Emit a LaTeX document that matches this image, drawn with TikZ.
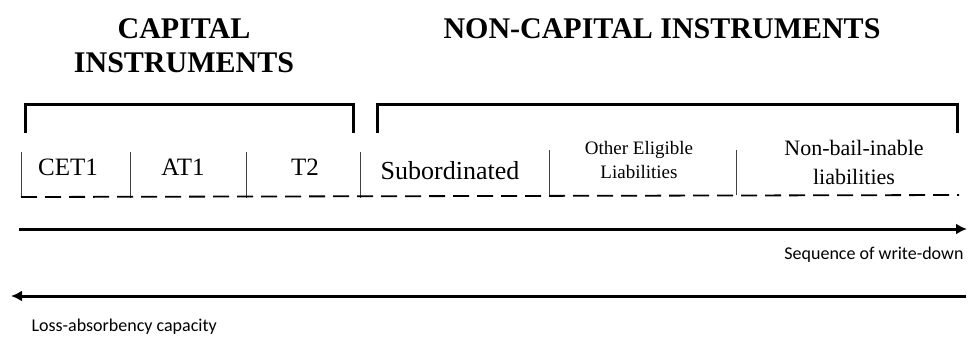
\documentclass[tikz,border=0pt]{standalone}
\usepackage{fontspec}
\setmainfont{Liberation Serif}
\newfontfamily\calibri{Carlito}
\usepackage{tikz}
\usetikzlibrary{arrows.meta}

\begin{document}
\begin{tikzpicture}[x=1pt,y=-1pt]
        \useasboundingbox (0,0) rectangle (968,338);

        \node[align=center,font=\fontsize{30}{34}\selectfont\bfseries] (captitle) at (184,46) {CAPITAL\\INSTRUMENTS};
        \node[font=\fontsize{30}{34}\selectfont\bfseries] (noncaptitle) at (662,29) {NON-CAPITAL INSTRUMENTS};

        \draw[line width=3pt] (25,133) -- (25,104) -- (353,104) -- (353,133);
        \draw[line width=3pt] (377,133) -- (377,104) -- (957,104) -- (957,133);

        \foreach \x in {21,130,246,360} {
            \draw[line width=0.8pt,black!75] (\x,152) -- (\x,198);
        }
        \foreach \x in {549,736} {
            \draw[line width=0.8pt,black!75] (\x,150) -- (\x,195);
        }
        \draw[line width=1.8pt,dash pattern=on 16pt off 8pt] (21,197) -- (959,195);

        \node[font=\fontsize{25}{28}\selectfont] (cet) at (68,167) {CET1};
        \node[font=\fontsize{25}{28}\selectfont] (at) at (183,167) {AT1};
        \node[font=\fontsize{25}{28}\selectfont] (tt) at (305,167) {T2};
        \node[font=\fontsize{26}{28}\selectfont] (sub) at (450,171) {Subordinated};
        \node[align=center,font=\fontsize{19}{24}\selectfont] (oel) at (639,160) {Other Eligible\\Liabilities};
        \node[align=center,font=\fontsize{22}{29}\selectfont] (nbl) at (854,162) {Non-bail-inable\\liabilities};

        \coordinate (wdstart) at (19,229);
        \coordinate (wdend) at (967,229);
        \coordinate (lastart) at (966,296);
        \coordinate (laend) at (11,296);
        \draw[line width=3pt,-{Latex[length=11pt,width=11pt]}] (wdstart) -- (wdend);
        \draw[line width=3pt,-{Latex[length=11pt,width=11pt]}] (lastart) -- (laend);

        \node[anchor=east,font=\calibri\fontsize{18}{20}\selectfont] (wdlabel) at (967,255) {Sequence of write-down};
        \node[anchor=west,font=\calibri\fontsize{18}{20}\selectfont] (lalabel) at (28,327) {Loss-absorbency capacity};
\end{tikzpicture}
\end{document}
